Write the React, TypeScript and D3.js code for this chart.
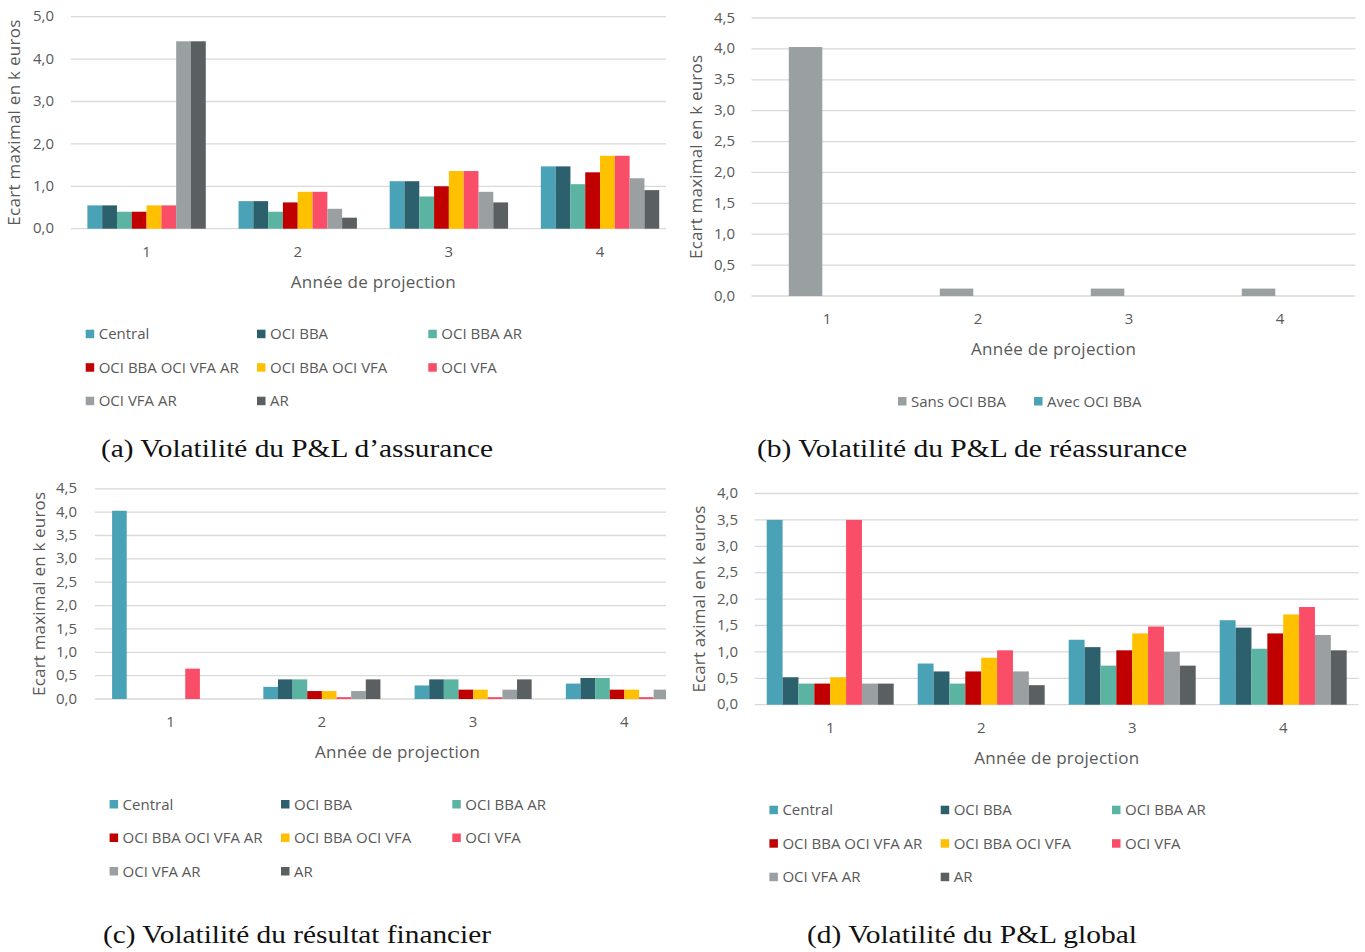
import React from 'react';
import * as d3 from 'd3';

// Projection years shown on the category axis
const years = ['1', '2', '3', '4'];

// Accounting scenarios compared in panels (a), (c) and (d)
const scenarios = [
  'Central',
  'OCI BBA',
  'OCI BBA AR',
  'OCI BBA OCI VFA AR',
  'OCI BBA OCI VFA',
  'OCI VFA',
  'OCI VFA AR',
  'AR',
];
const scenarioColors = [
  '#4AA2B7',
  '#2B606C',
  '#5BB4A2',
  '#C00000',
  '#FFC000',
  '#F94D68',
  '#9AA0A2',
  '#5A6062',
];

// (a) insurance P&L volatility, one row per scenario, one value per year
const assuranceValues = [
  [0.55, 0.65, 1.12, 1.47],
  [0.55, 0.65, 1.12, 1.47],
  [0.4, 0.4, 0.76, 1.05],
  [0.4, 0.62, 1.0, 1.33],
  [0.55, 0.87, 1.36, 1.72],
  [0.55, 0.87, 1.36, 1.72],
  [4.42, 0.47, 0.87, 1.19],
  [4.42, 0.26, 0.62, 0.91],
];

// (b) reinsurance P&L volatility
const reinsuranceSeries = ['Sans OCI BBA', 'Avec OCI BBA'];
const reinsuranceColors = ['#9AA0A2', '#4AA2B7'];
const reinsuranceValues = [
  [4.03, 0.12, 0.12, 0.12],
  [0, 0, 0, 0],
];

// (c) financial result volatility
const financialValues = [
  [4.03, 0.26, 0.29, 0.33],
  [0, 0.42, 0.42, 0.45],
  [0, 0.42, 0.42, 0.45],
  [0, 0.17, 0.2, 0.2],
  [0, 0.17, 0.2, 0.2],
  [0.65, 0.04, 0.04, 0.04],
  [0, 0.17, 0.2, 0.2],
  [0, 0.42, 0.42, 0.42],
];

// (d) global P&L volatility
const globalValues = [
  [3.5, 0.78, 1.23, 1.6],
  [0.52, 0.63, 1.09, 1.46],
  [0.4, 0.4, 0.74, 1.06],
  [0.4, 0.63, 1.03, 1.35],
  [0.52, 0.89, 1.35, 1.71],
  [3.5, 1.03, 1.48, 1.85],
  [0.4, 0.63, 1.0, 1.32],
  [0.4, 0.37, 0.74, 1.03],
];

// Value-axis ticks
const ticksTo5 = [0, 1, 2, 3, 4, 5];
const ticksTo45 = [0, 0.5, 1, 1.5, 2, 2.5, 3, 3.5, 4, 4.5];
const ticksTo4 = [0, 0.5, 1, 1.5, 2, 2.5, 3, 3.5, 4];

const fmt = (v: number) => d3.format('.1f')(v).replace('.', ',');

const UI_FONT = "'Open Sans', 'Noto Sans', sans-serif";
const TEXT = '#595959';
const GRID = '#D9D9D9';

type PanelProps = {
  id: string;
  series: string[];
  colors: string[];
  values: number[][];
  yMax: number;
  ticks: number[];
  x0: number;
  x1: number;
  yBase: number;
  yTop: number;
  groupPadding: number;
  seriesPadding: number;
  clipX?: number;
  tickRight: number;
  yTitleX: number;
  yTitle: string;
  yTitleLen: number;
  legendCols: number[];
  legendRows: number[];
  caption: string;
  captionX: number;
  captionY: number;
  captionLen: number;
};

function Panel(p: PanelProps) {
  const x = d3
    .scaleBand<string>()
    .domain(years)
    .range([p.x0, p.x1])
    .paddingInner(p.groupPadding)
    .paddingOuter(p.groupPadding / 2);
  const xs = d3
    .scaleBand<string>()
    .domain(p.series)
    .range([0, x.bandwidth()])
    .paddingInner(p.seriesPadding);
  const y = d3.scaleLinear().domain([0, p.yMax]).range([p.yBase, p.yTop]);
  const right = p.clipX !== undefined ? Math.min(p.clipX, p.x1) : p.x1;
  const clipId = `clip-${p.id}`;
  const perRow = p.legendCols.length;

  return (
    <g>
      <defs>
        <clipPath id={clipId}>
          <rect x={0} y={0} width={right} height={952} />
        </clipPath>
      </defs>
      {/* gridlines */}
      {p.ticks.map((t) => (
        <line
          key={`g${t}`}
          x1={p.x0}
          x2={right}
          y1={y(t)}
          y2={y(t)}
          stroke={GRID}
          strokeWidth={1.3}
        />
      ))}
      {/* value tick labels */}
      {p.ticks.map((t) => (
        <text
          key={`t${t}`}
          x={p.tickRight}
          y={y(t) + 4.6}
          textAnchor="end"
          fontFamily={UI_FONT}
          fontSize={15}
          fill={TEXT}
        >
          {fmt(t)}
        </text>
      ))}
      {/* bars */}
      <g clipPath={`url(#${clipId})`}>
        {p.series.map((s, si) =>
          years.map((yr, yi) => {
            const v = p.values[si][yi];
            if (v <= 0) return null;
            return (
              <rect
                key={`${s}-${yr}`}
                x={(x(yr) as number) + (xs(s) as number)}
                y={y(v)}
                width={xs.bandwidth()}
                height={y(0) - y(v)}
                fill={p.colors[si]}
              />
            );
          })
        )}
      </g>
      {/* category labels */}
      {years.map((yr) => (
        <text
          key={`c${yr}`}
          x={(x(yr) as number) + x.bandwidth() / 2}
          y={p.yBase + 28}
          textAnchor="middle"
          fontFamily={UI_FONT}
          fontSize={15}
          fill={TEXT}
        >
          {yr}
        </text>
      ))}
      {/* axis titles */}
      <text
        x={(p.x0 + p.x1) / 2}
        y={p.yBase + 59}
        textAnchor="middle"
        fontFamily={UI_FONT}
        fontSize={17}
        fill={TEXT}
        textLength={165}
        lengthAdjust="spacing"
      >
        Année de projection
      </text>
      <text
        transform={`translate(${p.yTitleX},${(p.yBase + p.yTop) / 2}) rotate(-90)`}
        textAnchor="middle"
        dy="0.35em"
        fontFamily={UI_FONT}
        fontSize={17}
        fill={TEXT}
        textLength={p.yTitleLen}
        lengthAdjust="spacing"
      >
        {p.yTitle}
      </text>
      {/* legend */}
      {p.series.map((s, i) => {
        const cx = p.legendCols[i % perRow];
        const ry = p.legendRows[Math.floor(i / perRow)];
        return (
          <g key={`l${s}`}>
            <rect x={cx} y={ry - 4} width={8.5} height={8.5} fill={p.colors[i]} />
            <text
              x={cx + 13}
              y={ry + 5.5}
              fontFamily={UI_FONT}
              fontSize={15}
              fill={TEXT}
            >
              {s}
            </text>
          </g>
        );
      })}
      {/* caption */}
      <text
        x={p.captionX}
        y={p.captionY}
        fontFamily="'Liberation Serif', 'DejaVu Serif', serif"
        fontSize={25.5}
        fill="#111"
        textLength={p.captionLen}
        lengthAdjust="spacingAndGlyphs"
      >
        {p.caption}
      </text>
    </g>
  );
}

export default function App() {
  return (
    <svg
      width={1365}
      height={952}
      style={{ position: 'absolute', left: 0, top: 0, background: '#fff' }}
    >
      <Panel
        id="a"
        series={scenarios}
        colors={scenarioColors}
        values={assuranceValues}
        yMax={5}
        ticks={ticksTo5}
        x0={71}
        x1={675.6}
        yBase={228.7}
        yTop={16.7}
        groupPadding={0.2167}
        seriesPadding={0}
        clipX={666}
        tickRight={54}
        yTitleX={14.5}
        yTitle="Ecart maximal en k euros"
        yTitleLen={206}
        legendCols={[85.7, 257, 428.3]}
        legendRows={[333.7, 367.2, 400.7]}
        caption="(a) Volatilité du P&L d’assurance"
        captionX={101}
        captionY={457}
        captionLen={392}
      />
      <Panel
        id="b"
        series={reinsuranceSeries}
        colors={reinsuranceColors}
        values={reinsuranceValues}
        yMax={4.5}
        ticks={ticksTo45}
        x0={751.5}
        x1={1355.5}
        yBase={296}
        yTop={18}
        groupPadding={0.494}
        seriesPadding={0.219}
        tickRight={735}
        yTitleX={696}
        yTitle="Ecart maximal en k euros"
        yTitleLen={204}
        legendCols={[898, 1034]}
        legendRows={[401]}
        caption="(b) Volatilité du P&L de réassurance"
        captionX={757}
        captionY={457}
        captionLen={430}
      />
      <Panel
        id="c"
        series={scenarios}
        colors={scenarioColors}
        values={financialValues}
        yMax={4.5}
        ticks={ticksTo45}
        x0={95}
        x1={700}
        yBase={699}
        yTop={488.8}
        groupPadding={0.226}
        seriesPadding={0}
        clipX={666}
        tickRight={77}
        yTitleX={39}
        yTitle="Ecart maximal en k euros"
        yTitleLen={204}
        legendCols={[109.6, 281, 452.3]}
        legendRows={[804, 837.5, 871]}
        caption="(c) Volatilité du résultat financier"
        captionX={103}
        captionY={943}
        captionLen={388}
      />
      <Panel
        id="d"
        series={scenarios}
        colors={scenarioColors}
        values={globalValues}
        yMax={4}
        ticks={ticksTo4}
        x0={754.7}
        x1={1358.7}
        yBase={704.7}
        yTop={493.5}
        groupPadding={0.159}
        seriesPadding={0}
        tickRight={738}
        yTitleX={699}
        yTitle="Ecart aximal en k euros"
        yTitleLen={187}
        legendCols={[769.4, 940.7, 1112]}
        legendRows={[809.7, 843.2, 876.7]}
        caption="(d) Volatilité du P&L global"
        captionX={807}
        captionY={943}
        captionLen={330}
      />
    </svg>
  );
}
